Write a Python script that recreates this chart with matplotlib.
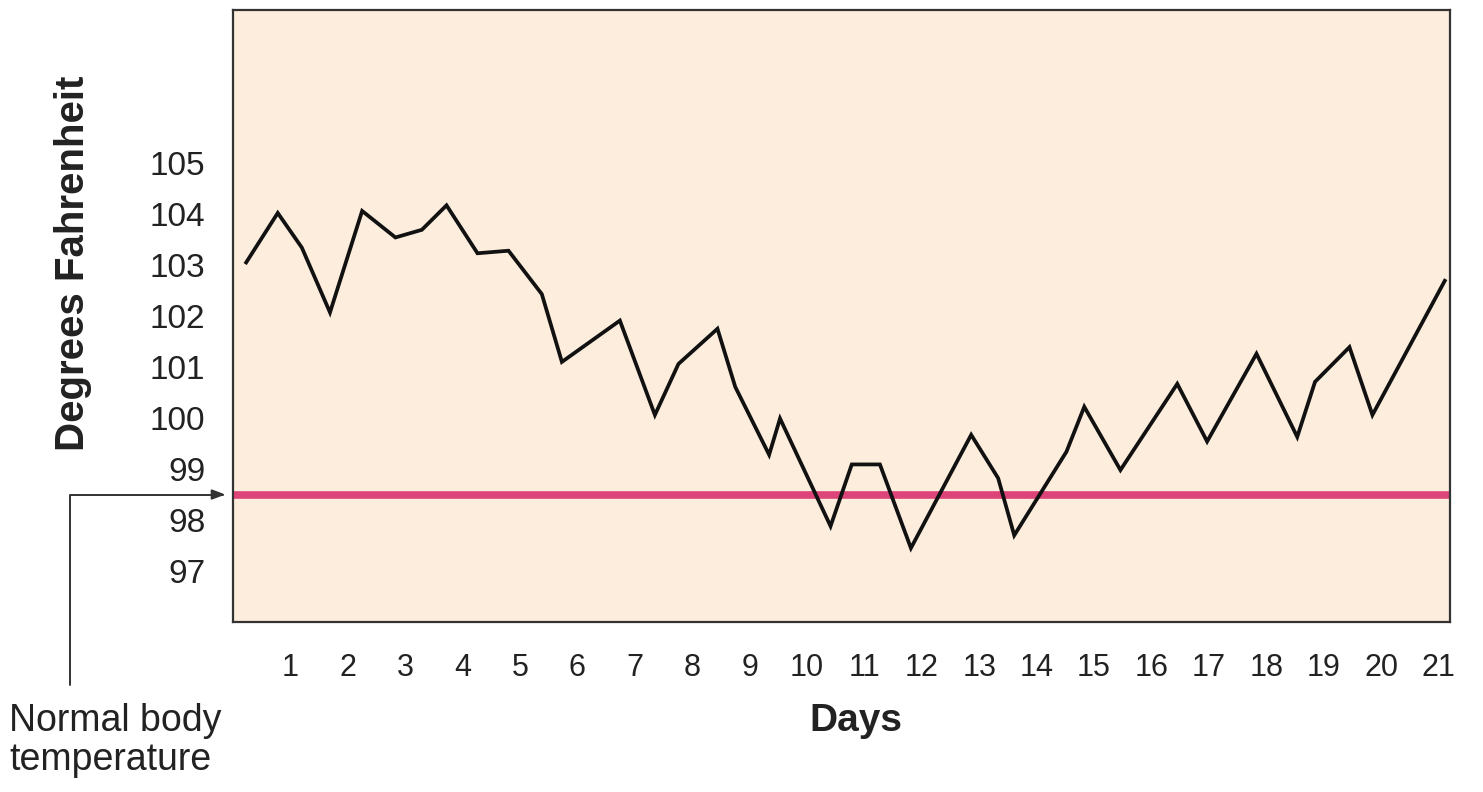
import matplotlib
matplotlib.use("Agg")
import matplotlib.pyplot as plt

# Data (day position, degrees F)
days = [0.23, 0.78, 1.20, 1.69, 2.25, 2.83, 3.29, 3.72, 4.26, 4.80, 5.38, 5.73,
        6.74, 7.35, 7.76, 8.44, 8.75, 9.34, 9.53, 10.41, 10.78, 11.27, 11.81,
        12.86, 13.33, 13.61, 14.52, 14.83, 15.46, 16.45, 16.97, 17.83, 18.54,
        18.85, 19.45, 19.85, 21.11]
temps = [103.05, 104.02, 103.34, 102.07, 104.06, 103.54, 103.69, 104.17, 103.23,
         103.28, 102.43, 101.10, 101.91, 100.06, 101.06, 101.75, 100.61, 99.28,
         99.99, 97.88, 99.09, 99.09, 97.45, 99.67, 98.82, 97.70, 99.34, 100.22,
         98.98, 100.67, 99.54, 101.26, 99.63, 100.71, 101.39, 100.06, 102.69]
normal_temp = 98.5
x_ticks = list(range(1, 22))
y_ticks = list(range(97, 106))

plt.rcParams['font.family'] = ['Liberation Sans', 'DejaVu Sans']

fig = plt.figure(figsize=(14.83, 7.92), dpi=100)
ax = fig.add_axes([0.1571, 0.2146, 0.8206, 0.7728])
ax.set_facecolor('#FCEDDD')

ax.axhline(normal_temp, color='#DD4479', lw=5.5, zorder=2)
ax.plot(days, temps, color='#111111', lw=2.7, zorder=3, solid_joinstyle='miter')

ax.set_xlim(0, 21.2)
ax.set_ylim(96, 108)
ax.set_xticks(x_ticks)
ax.set_xticklabels([str(d) for d in x_ticks], fontsize=22, color='#222222')
ax.set_yticks(y_ticks)
ax.set_yticklabels([str(t) for t in y_ticks], fontsize=24, color='#222222')
ax.tick_params(axis='both', length=0)
ax.tick_params(axis='x', pad=22)
ax.tick_params(axis='y', pad=20)
for s in ax.spines.values():
    s.set_color('#333333')
    s.set_linewidth(1.6)

fig.text(0.049, 0.668, 'Degrees Fahrenheit', rotation=90, fontsize=29,
         fontweight='bold', ha='center', va='center', color='#222222')
fig.text(0.577, 0.09, 'Days', fontsize=28, fontweight='bold',
         ha='center', va='center', color='#222222')
fig.text(0.006, 0.065, 'Normal body\ntemperature', fontsize=27, ha='left',
         va='center', linespacing=1.1, color='#222222')

ax.annotate('', xy=(-0.13, normal_temp), xycoords='data',
            xytext=(0.0472, 0.135), textcoords='figure fraction',
            annotation_clip=False,
            arrowprops=dict(arrowstyle='-|>,head_length=0.8,head_width=0.3',
                            color='#333333', lw=1.4, shrinkA=0, shrinkB=0,
                            connectionstyle='angle,angleA=90,angleB=0,rad=0'))

fig.savefig('out.png', dpi=100)
